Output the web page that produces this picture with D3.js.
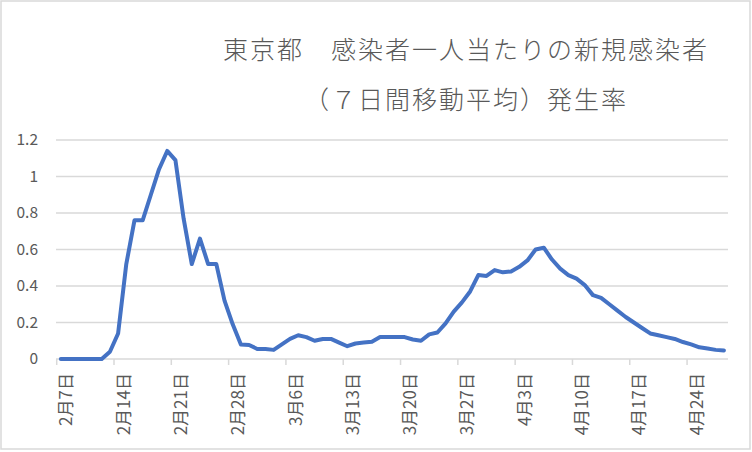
<!DOCTYPE html>
<html><head><meta charset="utf-8">
<script src="https://cdn.jsdelivr.net/npm/d3@7"></script>
<style>body{margin:0;background:#fff}svg{display:block}</style>
</head><body>
<svg id="c" width="752" height="452"></svg>
<script>
const titleLines = ["東京都　感染者一人当たりの新規感染者", "（７日間移動平均）発生率"];
const dates = [
"2月7日","2月8日","2月9日","2月10日","2月11日","2月12日","2月13日","2月14日","2月15日","2月16日","2月17日","2月18日","2月19日","2月20日","2月21日","2月22日","2月23日","2月24日","2月25日","2月26日","2月27日","2月28日","2月29日",
"3月1日","3月2日","3月3日","3月4日","3月5日","3月6日","3月7日","3月8日","3月9日","3月10日","3月11日","3月12日","3月13日","3月14日","3月15日","3月16日","3月17日","3月18日","3月19日","3月20日","3月21日","3月22日","3月23日","3月24日","3月25日","3月26日","3月27日","3月28日","3月29日","3月30日","3月31日",
"4月1日","4月2日","4月3日","4月4日","4月5日","4月6日","4月7日","4月8日","4月9日","4月10日","4月11日","4月12日","4月13日","4月14日","4月15日","4月16日","4月17日","4月18日","4月19日","4月20日","4月21日","4月22日","4月23日","4月24日","4月25日","4月26日","4月27日","4月28日"];
const rate = [0,0,0,0,0,0,0.04,0.14,0.52,0.76,0.76,0.90,1.04,1.14,1.09,0.77,0.52,0.66,0.52,0.52,0.32,0.19,
0.08,0.077,0.055,0.055,0.05,0.08,0.11,0.13,0.12,0.10,0.11,0.11,0.09,0.07,0.085,0.09,0.095,0.12,0.12,0.12,0.12,0.107,0.10,0.135,0.145,0.195,0.26,0.31,0.37,0.46,0.455,
0.487,0.475,0.48,0.505,0.54,0.60,0.61,0.545,0.495,0.46,0.44,0.405,0.35,0.335,0.30,0.265,0.23,0.20,0.17,0.14,0.13,0.12,0.11,0.093,0.08,0.064,0.058,0.05,0.047];
const yTicks = [0,0.2,0.4,0.6,0.8,1,1.2];
const xTickLabels = dates.filter((d,i)=>i%7===0);

const svg = d3.select("#c");
const font = "'Noto Sans CJK JP','Noto Sans',sans-serif";
const grey = "#595959";

svg.append("rect").attr("x",1).attr("y",1).attr("width",749).attr("height",448)
  .attr("fill","#fff").attr("stroke","#d9d9d9").attr("stroke-width",1.5);

const x = d3.scaleBand().domain(dates).range([56.7,728]).padding(0);
const y = d3.scaleLinear().domain([0,1.2]).range([359,140]);

// gridlines
svg.append("g").selectAll("line").data(yTicks).join("line")
  .attr("x1",56).attr("x2",728).attr("y1",d=>y(d)).attr("y2",d=>y(d))
  .attr("stroke","#d9d9d9").attr("stroke-width",1.5);

// y labels
svg.append("g").selectAll("text").data(yTicks).join("text")
  .attr("x",38).attr("y",d=>y(d)).attr("dy","0.35em").attr("text-anchor","end")
  .attr("font-family",font).attr("font-size",15.5).attr("fill",grey)
  .text(d=>d3.format("")(d));

// x axis
const xAxis = d3.axisBottom(x).tickValues(xTickLabels).tickSize(0).tickFormat(d=>d);
const gx = svg.append("g").attr("transform","translate(0,359)").call(xAxis);
gx.select(".domain").remove();
gx.selectAll(".tick text")
  .attr("font-family",font).attr("font-size",17).attr("fill",grey)
  .attr("text-anchor","end").attr("dy",null).attr("y",null)
  .attr("dominant-baseline","central")
  .attr("transform","translate(4,14) rotate(-90)");
// tick marks at category boundaries
svg.append("g").selectAll("line").data(xTickLabels).join("line")
  .attr("x1",d=>x(d)).attr("x2",d=>x(d)).attr("y1",359).attr("y2",365)
  .attr("stroke","#d9d9d9").attr("stroke-width",1.5);

// line
const line = d3.line().x((d,i)=>x(dates[i])+x.bandwidth()/2).y(d=>y(d));
svg.append("path").datum(rate).attr("d",line).attr("fill","none")
  .attr("stroke","#4472c4").attr("stroke-width",4).attr("stroke-linejoin","round").attr("stroke-linecap","round");

// title
svg.append("g").selectAll("text").data(titleLines).join("text")
  .attr("x",466).attr("y",(d,i)=>59+i*50).attr("text-anchor","middle")
  .attr("font-family",font).attr("font-size",25).attr("font-weight",300).attr("letter-spacing",2).attr("fill",grey)
  .text(d=>d);
</script>
</body></html>
